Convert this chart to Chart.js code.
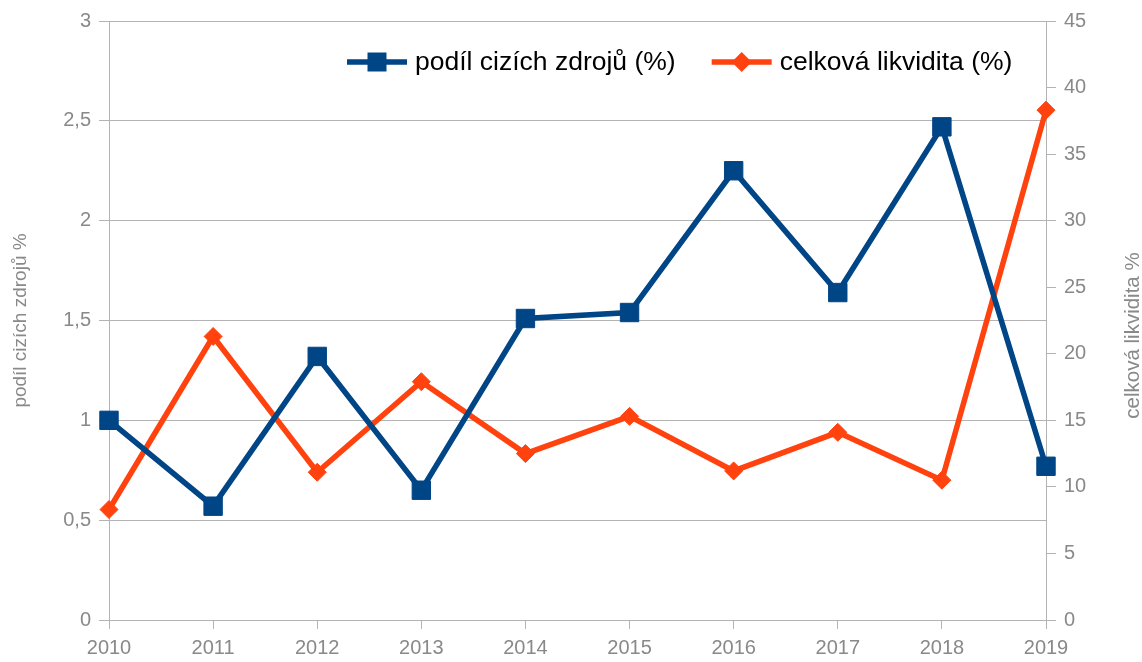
<!DOCTYPE html>
<html>
<head>
<meta charset="utf-8">
<script src="https://cdn.jsdelivr.net/npm/chart.js@4/dist/chart.umd.min.js"></script>
<style>
  html, body { margin: 0; padding: 0; background: #fff; }
  #wrap { width: 1142px; height: 662px; position: relative; }
</style>
</head>
<body>
<div id="wrap"><canvas id="graf"></canvas></div>
<script>
const roky = ['2010', '2011', '2012', '2013', '2014', '2015', '2016', '2017', '2018', '2019'];
const podilCizichZdroju = [1.00, 0.57, 1.32, 0.65, 1.51, 1.54, 2.25, 1.64, 2.47, 0.77];
const celkovaLikvidita = [8.3, 21.3, 11.1, 17.9, 12.5, 15.3, 11.2, 14.1, 10.5, 38.3];
const nazvySerii = ['podíl cizích zdrojů (%)', 'celková likvidita (%)'];
const nazvyOs = ['podíl cizích zdrojů %', 'celková likvidita %'];

const MODRA = '#004586';
const ORANZOVA = '#ff420e';
const SEDA = '#898989';
const MRIZKA = '#b3b3b3';
const FONT = '"Liberation Sans", Arial, sans-serif';

// legenda uvnitř grafu: čára + značka + text
const legendaPlugin = {
  id: 'legenda',
  afterDraw(chart) {
    const ctx = chart.ctx;
    const y = 62;
    let x = 347;
    const polozky = [
      { text: nazvySerii[0], barva: MODRA, tvar: 'ctverec' },
      { text: nazvySerii[1], barva: ORANZOVA, tvar: 'kosoctverec' }
    ];
    ctx.save();
    ctx.font = '26.5px ' + FONT;
    ctx.textBaseline = 'middle';
    polozky.forEach(p => {
      ctx.strokeStyle = p.barva;
      ctx.fillStyle = p.barva;
      ctx.lineWidth = 5.5;
      ctx.beginPath();
      ctx.moveTo(x, y);
      ctx.lineTo(x + 60, y);
      ctx.stroke();
      const cx = x + 30;
      ctx.beginPath();
      if (p.tvar === 'ctverec') {
        ctx.rect(cx - 9.5, y - 9.5, 19, 19);
      } else {
        ctx.moveTo(cx - 10, y);
        ctx.lineTo(cx, y - 10);
        ctx.lineTo(cx + 10, y);
        ctx.lineTo(cx, y + 10);
        ctx.closePath();
      }
      ctx.fill();
      ctx.fillStyle = '#000';
      ctx.fillText(p.text, x + 68, y + 1);
      x += 68 + ctx.measureText(p.text).width + 36;
    });
    ctx.restore();
  }
};

// titulek pravé osy čtený zdola nahoru
const pravyTitulek = {
  id: 'pravyTitulek',
  afterDraw(chart) {
    const ctx = chart.ctx;
    const area = chart.chartArea;
    ctx.save();
    ctx.translate(area.right + 87, (area.top + area.bottom) / 2 + 15);
    ctx.rotate(-Math.PI / 2);
    ctx.font = '20.5px ' + FONT;
    ctx.fillStyle = SEDA;
    ctx.textAlign = 'center';
    ctx.textBaseline = 'middle';
    ctx.fillText(nazvyOs[1], 0, 0);
    ctx.restore();
  }
};

const carka = v => String(v).replace('.', ',');

new Chart(document.getElementById('graf'), {
  type: 'line',
  data: {
    labels: roky,
    datasets: [
      {
        label: nazvySerii[0],
        data: podilCizichZdroju,
        yAxisID: 'y',
        borderColor: MODRA,
        backgroundColor: MODRA,
        borderWidth: 5.5,
        tension: 0,
        pointStyle: 'rect',
        pointRadius: 13,
        pointBorderWidth: 1,
        pointBackgroundColor: MODRA,
        pointBorderColor: MODRA
      },
      {
        label: nazvySerii[1],
        data: celkovaLikvidita,
        yAxisID: 'y1',
        borderColor: ORANZOVA,
        backgroundColor: ORANZOVA,
        borderWidth: 5.5,
        tension: 0,
        pointStyle: 'rectRot',
        pointRadius: 9,
        pointBorderWidth: 1,
        pointBackgroundColor: ORANZOVA,
        pointBorderColor: ORANZOVA
      }
    ]
  },
  options: {
    responsive: true,
    maintainAspectRatio: false,
    animation: false,
    events: [],
    layout: { padding: { top: 21 } },
    plugins: {
      legend: { display: false },
      tooltip: { enabled: false }
    },
    scales: {
      x: {
        offset: false,
        grid: { drawOnChartArea: false, drawTicks: true, tickLength: 9, color: MRIZKA },
        border: { color: MRIZKA },
        ticks: { color: SEDA, font: { family: FONT, size: 20 }, padding: 7, maxRotation: 0 },
        afterFit(s) { s.height = 42; }
      },
      y: {
        position: 'left',
        min: 0,
        max: 3,
        grid: { color: MRIZKA, tickLength: 10 },
        border: { color: MRIZKA },
        ticks: { stepSize: 0.5, color: SEDA, font: { family: FONT, size: 20 }, padding: 8, callback: carka },
        title: { display: true, text: nazvyOs[0], color: SEDA, font: { family: FONT, size: 19 }, padding: { top: 9 } },
        afterFit(s) { s.width = 109; }
      },
      y1: {
        position: 'right',
        min: 0,
        max: 45,
        grid: { drawOnChartArea: false, color: MRIZKA, tickLength: 10 },
        border: { color: MRIZKA },
        ticks: { stepSize: 5, color: SEDA, font: { family: FONT, size: 20 }, padding: 8 },
        afterFit(s) { s.width = 96; }
      }
    }
  },
  plugins: [legendaPlugin, pravyTitulek]
});
</script>
</body>
</html>
